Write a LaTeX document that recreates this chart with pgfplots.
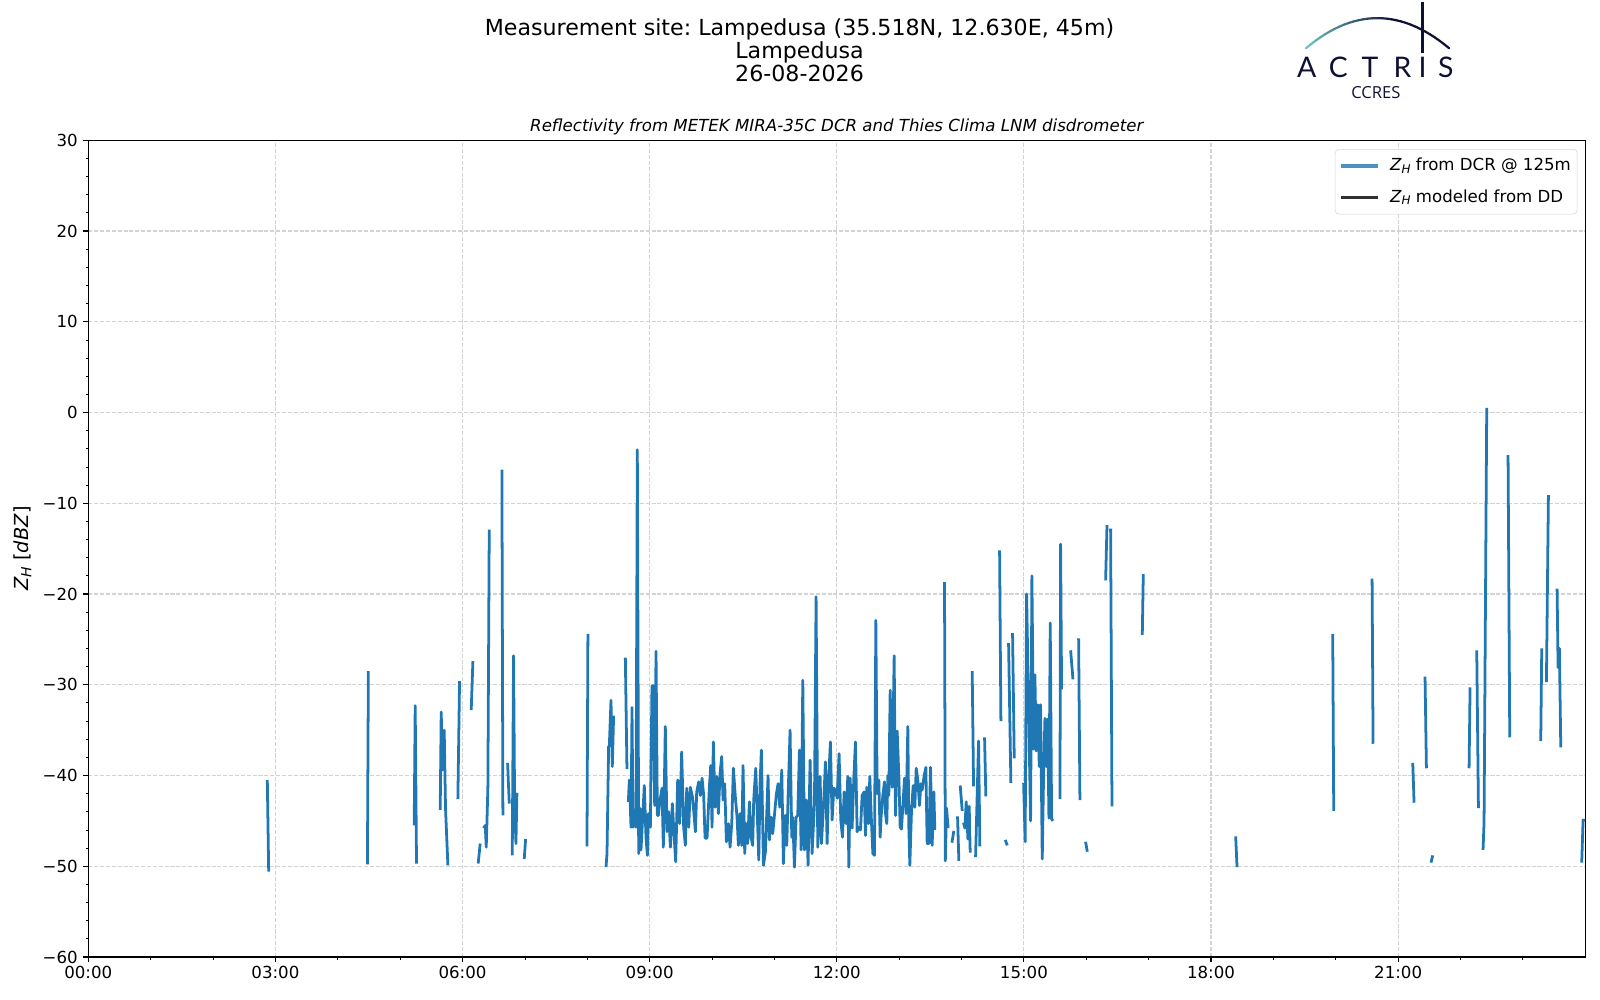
\documentclass[border=0pt]{standalone}
\usepackage{fontspec}
\setmainfont{DejaVu Sans}
\newfontfamily\latofont{Lato}
\newfontfamily\opensansfont{Open Sans}
\usepackage{graphicx}
\usepackage{pgfplots}
\usepackage{pgfplotstable}
\pgfplotsset{compat=1.18}
\definecolor{mplblue}{HTML}{1F77B4}
\definecolor{gridgray}{HTML}{D3D3D3}
\definecolor{logonavy}{HTML}{0F1134}
\definecolor{logoteal}{HTML}{6CC3C2}
\newcommand\ZH{\textit{Z}\raisebox{-0.28ex}{\scalebox{0.72}{\textit{H}}}}
\frenchspacing

\pgfplotstableread{
h v
2.870 -40.5
2.892 -50.6
nan nan
4.475 -49.8
4.490 -28.5
nan nan
5.225 -45.5
5.241 -32.3
5.262 -49.7
nan nan
5.642 -43.8
5.658 -33.0
5.679 -39.4
5.706 -35.0
5.727 -43.6
5.765 -49.9
nan nan
5.925 -42.6
5.952 -29.6
nan nan
6.139 -32.8
6.166 -27.4
nan nan
6.251 -49.7
6.283 -47.5
nan nan
6.337 -45.8
6.364 -45.5
6.380 -47.9
6.406 -41.4
6.428 -12.9
nan nan
6.631 -6.3
6.647 -44.4
nan nan
6.722 -38.6
6.749 -43.1
nan nan
6.797 -48.8
6.818 -26.8
6.834 -42.5
6.856 -47.5
6.872 -41.9
nan nan
6.989 -49.2
7.011 -47.0
nan nan
7.995 -47.8
8.010 -24.4
nan nan
8.300 -50.1
8.316 -48.6
8.342 -36.8
8.353 -36.8
8.380 -31.7
8.401 -39.0
8.422 -33.4
nan nan
8.610 -27.0
8.636 -39.3
nan nan
8.658 -42.9
8.674 -40.5
8.701 -45.7
8.717 -32.5
8.733 -45.7
8.759 -43.8
8.781 -45.7
8.802 -4.1
8.824 -48.6
8.845 -43.6
8.861 -48.2
8.914 -41.1
8.941 -46.8
8.963 -48.8
8.979 -44.2
9.011 -45.7
9.037 -30.1
9.059 -30.1
9.080 -43.3
9.102 -26.3
9.123 -44.4
9.139 -44.4
9.166 -42.7
9.198 -41.4
9.219 -47.9
9.251 -34.6
9.278 -46.2
9.305 -44.0
9.332 -47.9
9.364 -43.1
9.390 -46.4
9.417 -49.5
9.449 -40.5
9.481 -45.3
9.513 -37.4
9.545 -45.7
9.572 -47.7
9.594 -41.4
9.626 -45.7
9.652 -41.3
9.690 -42.5
9.733 -46.2
9.754 -41.8
9.786 -40.7
9.813 -42.2
9.840 -40.3
9.866 -42.2
9.888 -46.9
9.920 -46.9
9.957 -41.3
9.979 -38.9
10.000 -45.7
10.021 -36.3
10.048 -43.5
10.075 -40.1
10.102 -44.2
10.128 -39.8
10.155 -37.9
10.176 -42.7
10.203 -40.9
10.230 -47.3
10.262 -45.3
10.289 -47.9
10.316 -45.3
10.342 -39.2
10.374 -42.4
10.401 -44.6
10.422 -47.7
10.449 -44.2
10.476 -47.7
10.497 -38.9
10.524 -48.6
10.545 -45.3
10.572 -47.5
10.599 -42.9
10.626 -46.8
10.652 -47.7
10.668 -42.7
10.701 -39.2
10.727 -44.6
10.749 -49.3
10.770 -40.9
10.791 -37.2
10.824 -49.9
10.856 -48.4
10.898 -40.0
10.920 -47.1
10.947 -44.6
10.973 -46.4
11.000 -44.4
11.032 -42.0
11.059 -40.9
11.086 -43.5
11.118 -39.4
11.144 -49.7
11.171 -44.4
11.198 -47.7
11.219 -42.4
11.251 -35.0
11.278 -46.8
11.294 -44.6
11.321 -50.1
11.348 -44.6
11.374 -44.4
11.401 -37.2
11.428 -48.2
11.455 -29.5
11.481 -48.2
11.508 -42.7
11.540 -49.9
11.572 -38.3
11.604 -48.6
11.642 -43.1
11.668 -20.3
11.695 -47.9
11.733 -40.1
11.754 -47.5
11.786 -43.5
11.818 -38.5
11.845 -47.5
11.872 -40.0
11.898 -36.3
11.925 -44.9
11.952 -41.4
11.979 -41.6
12.005 -42.5
12.037 -37.6
12.064 -44.9
12.091 -46.8
12.118 -41.8
12.150 -45.3
12.176 -40.1
12.193 -50.1
12.214 -40.3
12.246 -45.8
12.273 -40.3
12.299 -36.3
12.326 -46.2
12.353 -45.7
12.380 -46.0
12.406 -42.2
12.439 -41.8
12.460 -46.6
12.481 -41.3
12.508 -45.3
12.529 -40.1
12.556 -45.1
12.578 -48.6
12.604 -48.8
12.626 -22.9
12.647 -42.0
12.674 -40.5
12.695 -46.8
12.711 -44.5
12.738 -42.2
12.765 -40.7
12.781 -44.2
12.802 -45.3
12.818 -40.0
12.834 -42.2
12.856 -30.6
12.888 -41.3
12.920 -26.8
12.941 -44.4
12.968 -35.1
12.995 -40.1
13.016 -45.7
13.037 -45.9
13.059 -43.4
13.086 -40.3
13.112 -44.2
13.139 -34.6
13.155 -45.7
13.171 -49.9
13.198 -43.8
13.225 -41.1
13.251 -43.5
13.273 -39.2
13.299 -40.5
13.326 -43.3
13.348 -40.9
13.369 -41.6
13.401 -40.0
13.428 -39.1
13.449 -47.5
13.476 -47.5
13.503 -39.1
13.529 -47.7
13.556 -41.8
13.572 -46.0
nan nan
13.727 -18.7
13.740 -49.4
13.760 -43.6
13.785 -45.8
nan nan
13.845 -47.4
13.877 -46.1
nan nan
13.936 -44.5
13.957 -49.4
nan nan
13.979 -41.1
14.011 -43.9
nan nan
14.032 -45.2
14.053 -45.8
14.075 -42.9
14.102 -47.0
14.123 -43.4
14.139 -48.5
nan nan
14.171 -28.5
14.193 -41.2
nan nan
14.225 -49.0
14.273 -36.2
14.294 -47.8
nan nan
14.369 -35.8
14.390 -42.3
nan nan
14.610 -15.2
14.631 -34.0
nan nan
14.701 -47.1
14.733 -47.7
nan nan
14.754 -25.4
14.791 -40.8
nan nan
14.818 -24.3
14.845 -38.1
nan nan
14.995 -40.8
15.020 -47.3
15.043 -20.0
15.107 -45.0
15.128 -18.0
15.155 -37.1
15.176 -28.9
15.198 -37.3
15.225 -32.2
15.246 -39.0
15.267 -32.2
15.294 -49.2
15.316 -39.7
15.337 -33.7
15.358 -39.0
15.380 -33.8
15.401 -44.7
15.422 -23.2
15.444 -44.8
15.465 -45.0
nan nan
15.578 -42.6
15.588 -14.5
15.604 -30.5
nan nan
15.749 -26.2
15.786 -29.4
nan nan
15.877 -24.9
15.898 -42.7
nan nan
15.989 -47.3
16.016 -48.4
nan nan
16.310 -18.5
16.332 -12.4
nan nan
16.390 -12.8
16.412 -43.4
nan nan
16.898 -24.5
16.914 -17.8
nan nan
18.395 -46.7
18.417 -50.1
nan nan
19.951 -24.4
19.967 -43.9
nan nan
20.582 -18.3
20.598 -36.5
nan nan
21.234 -38.6
21.255 -43.0
nan nan
21.431 -29.1
21.453 -39.2
nan nan
21.527 -49.6
21.554 -48.8
nan nan
22.137 -39.2
22.153 -30.3
nan nan
22.260 -26.2
22.287 -43.6
nan nan
22.361 -48.2
22.377 -45.2
22.420 0.5
nan nan
22.762 -4.7
22.789 -35.8
nan nan
23.286 -36.2
23.302 -26.0
nan nan
23.377 -29.7
23.409 -9.1
nan nan
23.548 -19.4
23.564 -28.1
23.585 -26.0
23.607 -36.9
nan nan
23.943 -49.6
23.965 -44.9
23.995 -45.0
}\zdata

\begin{document}
\frenchspacing
\begin{tikzpicture}
\path[use as bounding box] (0,0) rectangle (16in,10in);

% suptitle
\begin{scope}[x=0.01in, y=0.01in, yshift=10in, yscale=-1]
\node[anchor=base, inner sep=0pt, font=\fontsize{16}{18}\selectfont] at (800,35.7) {Measurement site: Lampedusa (35.518N, 12.630E, 45m)};
\node[anchor=base, inner sep=0pt, font=\fontsize{16}{18}\selectfont] at (800,59.0) {Lampedusa};
\node[anchor=base, inner sep=0pt, font=\fontsize{16}{18}\selectfont] at (800,81.7) {26-08-2026};

% logo
\foreach \i in {0,...,29} {
  \pgfmathsetmacro\ta{\i/30}
  \pgfmathsetmacro\tb{(\i+1)/30}
  \pgfmathsetmacro\xa{(1-\ta)^2*1306.7+2*\ta*(1-\ta)*1378+\ta^2*1450}
  \pgfmathsetmacro\ya{(1-\ta)^2*48.3+2*\ta*(1-\ta)*(-12)+\ta^2*48.3}
  \pgfmathsetmacro\xb{(1-\tb)^2*1306.7+2*\tb*(1-\tb)*1378+\tb^2*1450}
  \pgfmathsetmacro\yb{(1-\tb)^2*48.3+2*\tb*(1-\tb)*(-12)+\tb^2*48.3}
  \pgfmathsetmacro\mix{max(0,100-100*\i/18)}
  \draw[line width=1.6pt, color=logoteal!\mix!logonavy, line cap=round] (\xa,\ya) -- (\xb,\yb);
}
\draw[line width=1.5pt, logonavy] (1423.3,2) -- (1423.3,53);
\begin{scope}[every node/.style={anchor=base, inner sep=0pt, text=logonavy, font=\latofont\fontsize{20.5}{21}\selectfont}]
\node at (1307.5,77.3) {A};
\node at (1339.0,77.3) {C};
\node at (1370.7,77.3) {T};
\node at (1403.3,77.3) {R};
\node at (1423.3,77.3) {I};
\node at (1446.7,77.3) {S};
\end{scope}
\node[anchor=base, inner sep=0pt, text=logonavy, font=\opensansfont\fontsize{12}{12}\selectfont] at (1376.7,98.3) {CCRES};
\end{scope}

\begin{axis}[
  at={(0.883in,0.43in)}, anchor=south west,
  scale only axis, width=14.97in, height=8.167in,
  xmin=0, xmax=24, ymin=-60, ymax=30,
  unbounded coords=jump,
  xtick={0,3,6,9,12,15,18,21},
  xticklabels={00:00,03:00,06:00,09:00,12:00,15:00,18:00,21:00},
  minor xtick={1,2,4,5,7,8,10,11,13,14,16,17,19,20,22,23},
  ytick={-60,-50,-40,-30,-20,-10,0,10,20,30},
  yticklabels={−60,−50,−40,−30,−20,−10,0,10,20,30},
  minor ytick={-58,-56,-54,-52,-48,-46,-44,-42,-38,-36,-34,-32,-28,-26,-24,-22,-18,-16,-14,-12,-8,-6,-4,-2,2,4,6,8,12,14,16,18,22,24,26,28},
  tick pos=left, tick align=outside,
  major tick length=3.5pt, minor tick length=2pt,
  every major tick/.append style={line width=0.8pt, black},
  every minor tick/.append style={line width=0.6pt, black},
  axis line style={line width=0.8pt},
  grid=major,
  major grid style={gridgray, line width=0.8pt, dash pattern=on 2.96pt off 1.28pt},
  ticklabel style={font=\fontsize{12}{14}\selectfont},
  xticklabel style={inner sep=0pt, anchor=north, yshift=-3pt},
  yticklabel style={inner sep=0pt, anchor=east, xshift=-4pt},
  title={Reflectivity from METEK MIRA-35C DCR and Thies Clima LNM disdrometer},
  every axis title/.style={at={(0.5,1)}, anchor=base, yshift=6.7pt, inner sep=0pt, font=\itshape\fontsize{12}{14}\selectfont},
  ylabel={\ZH\ [\textit{dBZ}]},
  ylabel style={at={(axis description cs:-0.0439,0.5)}, anchor=center, font=\fontsize{14}{16}\selectfont},
  legend style={at={(0.9947,0.9893)}, anchor=north east, draw=black!20, rounded corners=2.8pt,
    fill=white, fill opacity=0.8, text opacity=1, draw opacity=0.8,
    font=\fontsize{12}{14}\selectfont, inner xsep=3pt, inner ysep=5pt, row sep=8.6pt, column sep=6pt,
    nodes={inner sep=1.5pt, text depth=0.2em}},
  legend cell align=left,
  legend image code/.code={\draw[#1] (0pt,0pt) -- (27pt,0pt);},
]
\addplot[mplblue, line width=2pt, line join=round, forget plot] table[x=h, y=v] {\zdata};
\addlegendimage{mplblue, line width=2.2pt}
\addlegendentry{\ZH\ from DCR @ 125m}
\addlegendimage{black, line width=2pt}
\addlegendentry{\ZH\ modeled from DD}
\end{axis}
\end{tikzpicture}
\end{document}
